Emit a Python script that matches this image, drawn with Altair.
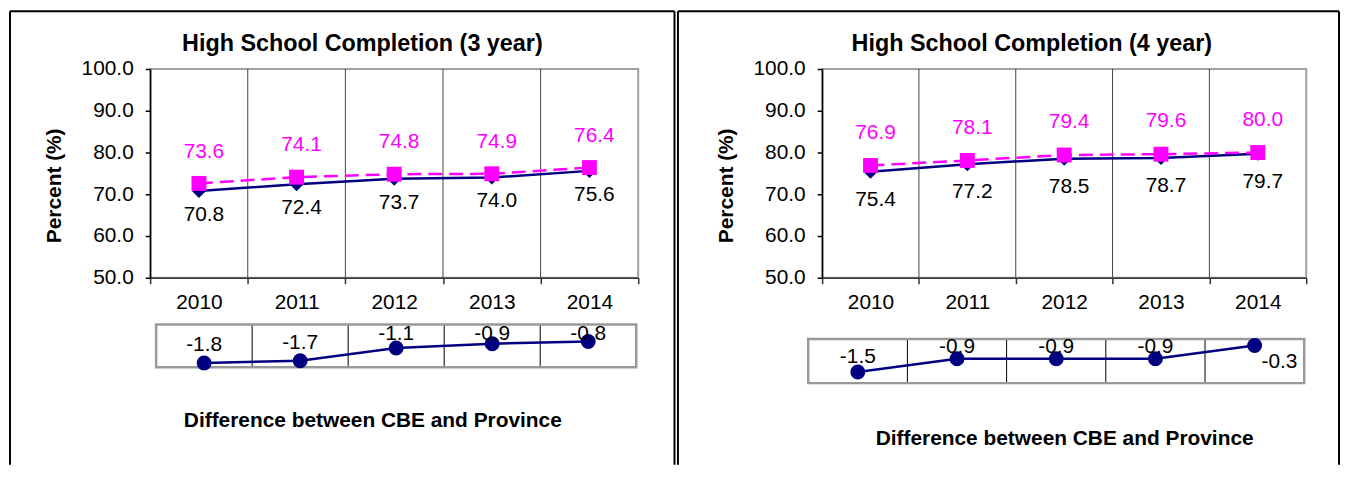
import altair as alt
import pandas as pd

# ---------------- data ----------------
years = ["2010", "2011", "2012", "2013", "2014"]

cbe_3yr = [70.8, 72.4, 73.7, 74.0, 75.6]
prov_3yr = [72.6, 74.1, 74.8, 74.9, 76.4]
prov_3yr_text = ["73.6", "74.1", "74.8", "74.9", "76.4"]
diff_3yr = [-1.8, -1.7, -1.1, -0.9, -0.8]

cbe_4yr = [75.4, 77.2, 78.5, 78.7, 79.7]
prov_4yr = [76.9, 78.1, 79.4, 79.6, 80.0]
prov_4yr_text = ["76.9", "78.1", "79.4", "79.6", "80.0"]
diff_4yr = [-1.5, -0.9, -0.9, -0.9, -0.3]

y_ticks = [50, 60, 70, 80, 90, 100]
chart_titles = ["High School Completion (3 year)", "High School Completion (4 year)"]
y_title = "Percent (%)"
diff_caption = "Difference between CBE and Province"

# ---------------- styles ----------------
FONT = "Liberation Sans"
NAVY = "#000080"
PINK = "#FF00FF"
BOX_GRAY = "#999999"


def make_panel(cbe, prov, prov_text, diff, title, L):
    df = pd.DataFrame(dict(year=years, cbe=cbe, prov=prov, prov_text=prov_text, diff=diff))
    base = alt.Chart(df)
    one = alt.Chart(pd.DataFrame({"k": [0]}))

    xs = alt.Scale(paddingInner=0, paddingOuter=0)
    xaxis = alt.Axis(title=None, labelAngle=0, tickBand="extent", tickSize=6, tickWidth=1.5,
                     tickColor="#333333", domainColor="#333333", domainWidth=1.5,
                     labelFont=FONT, labelFontSize=21, labelColor="#000000", labelPadding=8,
                     grid=False)
    X = alt.X("year:O", scale=xs, axis=xaxis)
    Xb = alt.X("year:O", scale=xs, axis=xaxis, bandPosition=0)
    ys = alt.Scale(domain=[50, 100])
    yaxis = alt.Axis(title=y_title, values=y_ticks, format=".1f", tickSize=5, tickWidth=1.5,
                     tickColor="#000000", domainColor="#000000", domainWidth=1.5,
                     labelFont=FONT, labelFontSize=21, labelColor="#000000", labelPadding=12,
                     grid=False, titleFont=FONT, titleFontSize=21, titleFontWeight="bold",
                     titleColor="#000000", titleX=L["ytitle"][0], titleY=L["ytitle"][1],
                     titleAngle=270, titleAlign="center", titleBaseline="middle")

    def Y(f):
        return alt.Y(f"{f}:Q", scale=ys, axis=yaxis)

    grid = base.transform_filter("datum.year != '2010'").mark_rule(
        color="#444444", strokeWidth=1).encode(x=Xb)
    cbe_line = base.mark_line(color=NAVY, strokeWidth=2.5).encode(x=X, y=Y("cbe"))
    cbe_pts = base.mark_point(shape="diamond", filled=True, size=200, color=NAVY,
                              opacity=1).encode(x=X, y=Y("cbe"))
    prov_line = base.mark_line(color=PINK, strokeWidth=2.5, strokeDash=[14, 7]).encode(
        x=X, y=Y("prov"))
    prov_pts = base.mark_square(size=225, color=PINK, opacity=1).encode(x=X, y=Y("prov"))
    prov_lab = base.mark_text(color=PINK, fontSize=21, font=FONT, baseline="middle",
                              dx=5, dy=L["pink_dy"]).encode(x=X, y=Y("prov"), text="prov_text:N")
    cbe_lab = base.mark_text(color="#000000", fontSize=21, font=FONT, baseline="middle",
                             dx=5, dy=L["navy_dy"]).encode(
        x=X, y=Y("cbe"), text=alt.Text("cbe:Q", format=".1f"))

    fx0, fx1, fy0, fy1 = L["frame"]
    frame_l = one.mark_rule(color="#000000", strokeWidth=2).encode(
        x=alt.value(fx0), y=alt.value(fy0), y2=alt.value(fy1))
    frame_r = one.mark_rule(color="#000000", strokeWidth=2).encode(
        x=alt.value(fx1), y=alt.value(fy0), y2=alt.value(fy1))
    frame_t = one.mark_rule(color="#000000", strokeWidth=2).encode(
        x=alt.value(fx0), x2=alt.value(fx1), y=alt.value(fy0))
    title_txt = one.mark_text(text=title, fontSize=23.5, fontWeight="bold", font=FONT,
                              align="center", baseline="alphabetic", color="#000000").encode(
        x=alt.value(L["title"][0]), y=alt.value(L["title"][1]))
    cap_txt = one.mark_text(text=diff_caption, fontSize=21, fontWeight="bold", font=FONT,
                            align="center", baseline="alphabetic", color="#000000").encode(
        x=alt.value(L["caption"][0]), y=alt.value(L["caption"][1]))

    main = alt.layer(grid, cbe_line, cbe_pts, prov_line, prov_pts, prov_lab, cbe_lab,
                     frame_l, frame_r, frame_t, title_txt, cap_txt)

    # ---- difference strip ----
    dx0, dx1 = L["dx"]
    dy_top, dy_bot = L["dy"]
    dxs = alt.Scale(paddingInner=0, paddingOuter=0, range=[dx0, dx1])
    dys = alt.Scale(domain=[-2, 0], range=[dy_bot, dy_top])
    DX = alt.X("year:O", scale=dxs, axis=None)
    DXb = alt.X("year:O", scale=dxs, axis=None, bandPosition=0)

    def DY(f):
        return alt.Y(f"{f}:Q", scale=dys, axis=None)

    dividers = base.transform_filter("datum.year != '2010'").transform_calculate(
        lo="-2", hi="0").mark_rule(color="#000000", strokeWidth=1).encode(
        x=DXb, y=DY("lo"), y2="hi:Q")
    box = one.mark_rect(fillOpacity=0, stroke=BOX_GRAY, strokeWidth=2.5).encode(
        x=alt.value(dx0), x2=alt.value(dx1), y=alt.value(dy_top), y2=alt.value(dy_bot))
    d_line = base.mark_line(color=NAVY, strokeWidth=2.5).encode(x=DX, y=DY("diff"))
    d_pts = base.mark_circle(size=225, color=NAVY, opacity=1).encode(x=DX, y=DY("diff"))
    d_lab = base.transform_filter(L["above_filter"]).transform_calculate(
        lab=f"min(datum.diff + {L['lab_off']}, {L['lab_max']})",
        txt="'' + datum.diff").mark_text(
        fontSize=21, font=FONT, baseline="middle", color="#000000").encode(
        x=DX, y=DY("lab"), text="txt:N")
    d_layers = [dividers, box, d_line, d_pts, d_lab]
    if L.get("side_filter"):
        d_side = base.transform_filter(L["side_filter"]).transform_calculate(
            txt="'' + datum.diff").mark_text(
            fontSize=21, font=FONT, baseline="middle", color="#000000",
            dx=L["side_dx"], dy=L["side_dy"]).encode(x=DX, y=DY("diff"), text="txt:N")
        d_layers.append(d_side)
    strip = alt.layer(*d_layers)

    return alt.layer(main, strip).resolve_scale(x="independent", y="independent").properties(
        width=L["W"], height=210)


L_left = dict(W=491, frame=(-141, 527.5, -58, 398), title=(213.5, -18), caption=(224, 360),
              ytitle=(-96, 117), dx=(6, 489), dy=(257, 300), pink_dy=-32, navy_dy=24,
              lab_off=0.84, lab_max=-0.46, above_filter="true")
L_right = dict(W=487, frame=(-145, 520, -58, 398), title=(211, -18), caption=(244, 378),
               ytitle=(-96, 117), dx=(-14, 485), dy=(271.5, 316), pink_dy=-33, navy_dy=28,
               lab_off=0.67, lab_max=-0.38, above_filter="datum.year != '2014'",
               side_filter="datum.year == '2014'", side_dx=25, side_dy=17)

left = make_panel(cbe_3yr, prov_3yr, prov_3yr_text, diff_3yr, chart_titles[0], L_left)
right = make_panel(cbe_4yr, prov_4yr, prov_4yr_text, diff_4yr, chart_titles[1], L_right)

chart = alt.hconcat(left, right, spacing=185, bounds="flush").properties(
    padding=0).configure_view(stroke="#A0A0A0", strokeWidth=2)

chart.save("out.html", embed_options={"renderer": "svg", "actions": False})
